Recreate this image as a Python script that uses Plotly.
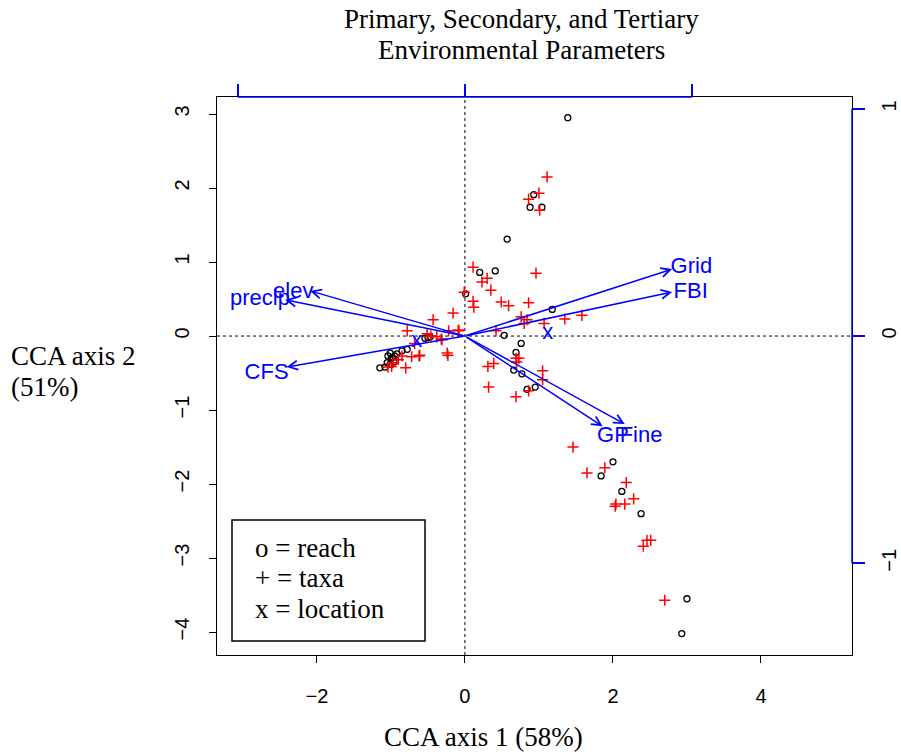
import plotly.graph_objects as go

# ---- data ----
site_x = [1.39, 0.93, 0.88, 1.04, 0.57, 0.20, 0.41, 0.01, 1.18, 0.53, 0.76, 0.69, 0.66, 0.77, 0.84, 0.95,
          2.00, 1.84, 2.12, 2.38, 3.00, 2.93,
          -0.47, -0.54, -0.50, -0.78, -0.85, -0.92, -1.01, -1.04, -0.95, -1.00, -0.96, -1.05, -1.01, -1.15, -1.08, -0.98]
site_y = [2.95, 1.91, 1.74, 1.74, 1.31, 0.86, 0.88, 0.57, 0.36, 0.01, -0.10, -0.22, -0.46, -0.51, -0.72, -0.69,
          -1.70, -1.89, -2.10, -2.40, -3.55, -4.02,
          -0.01, -0.03, -0.02, -0.18, -0.20, -0.24, -0.23, -0.27, -0.27, -0.31, -0.35, -0.36, -0.38, -0.43, -0.42, -0.29]

taxa_x = [1.11, 1.00, 0.86, 1.01, 0.96, 0.30, 0.11, 0.23, 0.35, -0.01, 0.11, 0.12, 0.49, 0.59, 0.86, 0.76,
          0.84, 0.80, 1.07, 1.35, 1.58, 0.42, -0.16, -0.43, -0.22, -0.08, -0.31, -0.61, -0.23, 0.69, 0.73,
          0.70, 0.31, 0.39, 1.05, 1.05, 0.32, 0.86, 0.69, -0.78, -0.09, -0.32, -0.68, -0.24, -0.72, -0.62,
          -0.80, -0.85, -0.90, -0.97, -1.04, -0.99, -0.38, -0.51, -0.46,
          1.46, 1.65, 1.89, 2.18, 2.28, 2.04, 2.03, 2.16, 2.46, 2.51, 2.41, 2.70]
taxa_y = [2.15, 1.93, 1.85, 1.70, 0.85, 0.78, 0.93, 0.73, 0.62, 0.59, 0.47, 0.39, 0.46, 0.41, 0.45, 0.26,
          0.22, 0.17, 0.17, 0.23, 0.28, 0.07, 0.31, 0.22, 0.07, 0.07, -0.05, -0.26, -0.26, -0.30, -0.30,
          -0.35, -0.41, -0.37, -0.47, -0.59, -0.69, -0.74, -0.82, 0.07, 0.08, -0.04, -0.10, -0.23, -0.28, -0.27,
          -0.43, -0.27, -0.32, -0.36, -0.42, -0.41, -0.01, 0.03, 0.00,
          -1.50, -1.85, -1.78, -1.98, -2.20, -2.27, -2.30, -2.27, -2.76, -2.76, -2.84, -3.57]

loc_x = [1.12, -0.65]
loc_y = [0.04, -0.08]

env_names = ["Grid", "FBI", "elev", "precip", "CFS", "GP", "Fine"]
env_x = [2.80, 2.80, -2.09, -2.43, -2.41, 1.86, 2.16]
env_y = [0.905, 0.595, 0.61, 0.49, -0.42, -1.22, -1.19]
env_lab_x = [3.06, 3.05, -2.32, -2.77, -2.68, 2.00, 2.38]
env_lab_y = [0.93, 0.59, 0.59, 0.50, -0.50, -1.36, -1.36]

x_ticks = [-2, 0, 2, 4]
y_ticks = [-4, -3, -2, -1, 0, 1, 2, 3]
bip_ticks = [-1, 0, 1]
bip_scale = 3.07

x_range = [-3.35, 5.23]
y_range = [-4.31, 3.23]

title_lines = ["Primary, Secondary, and Tertiary", "Environmental Parameters"]
xlab = "CCA axis 1 (58%)"
ylab_lines = ["CCA axis 2", "(51%)"]
legend_lines = ["o = reach", "+ = taxa", "x = location"]

SERIF = "Liberation Serif, Times New Roman, serif"
SANS = "Liberation Sans, Arial, sans-serif"
BLUE = "#0000FF"

# layout geometry (page pixels)
PL, PR, PT, PB = 217, 852, 97, 655
PW, PH = PR - PL, PB - PT


def px(xp):
    return (xp - PL) / PW


def py(yp):
    return (PB - yp) / PH


fig = go.Figure()

# dotted zero lines
fig.add_trace(go.Scatter(x=x_range, y=[0, 0], mode="lines",
                         line=dict(color="black", width=1, dash="dot"), hoverinfo="skip", showlegend=False))
fig.add_trace(go.Scatter(x=[0, 0], y=y_range, mode="lines",
                         line=dict(color="black", width=1, dash="dot"), hoverinfo="skip", showlegend=False))

fig.add_trace(go.Scatter(x=site_x, y=site_y, mode="markers", showlegend=False,
                         marker=dict(symbol="circle-open", size=6, color="black", line=dict(width=1.3, color="black"))))
fig.add_trace(go.Scatter(x=taxa_x, y=taxa_y, mode="markers", showlegend=False,
                         marker=dict(symbol="cross-thin-open", size=8, color="red", line=dict(width=1.5, color="red"))))
fig.add_trace(go.Scatter(x=loc_x, y=loc_y, mode="text", text=["x"] * len(loc_x), showlegend=False,
                         textposition="middle center", textfont=dict(family=SANS, size=22, color=BLUE)))
fig.add_trace(go.Scatter(x=env_lab_x, y=env_lab_y, mode="text", text=env_names, showlegend=False,
                         textposition="middle center", textfont=dict(family=SANS, size=22, color=BLUE)))

# invisible trace for biplot axes
fig.add_trace(go.Scatter(x=[0], y=[0], xaxis="x2", yaxis="y2", mode="markers",
                         marker=dict(opacity=0), hoverinfo="skip", showlegend=False))

annotations = []
for nx, ny in zip(env_x, env_y):
    annotations.append(dict(x=nx, y=ny, ax=0, ay=0, xref="x", yref="y", axref="x", ayref="y",
                            text="", showarrow=True, arrowhead=5, arrowsize=1.2, arrowwidth=1.5,
                            arrowcolor=BLUE, standoff=0, startstandoff=0))


def txt(t, xp, yp, xanchor="center"):
    return dict(text=t, xref="paper", yref="paper", x=px(xp), y=py(yp), xanchor=xanchor, yanchor="middle",
                align="left", showarrow=False, font=dict(family=SERIF, size=27, color="black"))


for t, yp in zip(title_lines, [19, 50]):
    annotations.append(txt(t, 521, yp))
annotations.append(txt(xlab, 483, 737))
for t, yp in zip(ylab_lines, [356, 387]):
    annotations.append(txt(t, 9, yp, "left"))
for t, yp in zip(legend_lines, [548, 578, 609]):
    annotations.append(txt(t, 253, yp, "left"))

shapes = [
    dict(type="rect", xref="paper", yref="paper", x0=px(232), x1=px(425),
         y0=py(641), y1=py(520), line=dict(color="black", width=1.5), fillcolor="rgba(0,0,0,0)"),
    dict(type="line", xref="x2", yref="paper", x0=bip_ticks[0], x1=bip_ticks[-1], y0=1, y1=1,
         line=dict(color=BLUE, width=1.5)),
    dict(type="line", xref="paper", yref="y2", x0=1, x1=1, y0=bip_ticks[0], y1=bip_ticks[-1],
         line=dict(color=BLUE, width=1.5)),
]

fig.update_layout(
    width=901, height=752,
    margin=dict(l=PL, r=901 - PR, t=PT, b=752 - PB, autoexpand=False),
    paper_bgcolor="white", plot_bgcolor="white",
    showlegend=False,
    xaxis=dict(range=x_range, tickvals=x_ticks, ticks="outside", ticklen=7, tickcolor="black", automargin=False,
               showline=True, mirror=True, linecolor="black", linewidth=1.3, showgrid=False, zeroline=False,
               tickfont=dict(family=SANS, size=20, color="black"), ticklabelstandoff=16),
    yaxis=dict(range=y_range, tickvals=y_ticks, ticks="outside", ticklen=7, tickcolor="black", tickangle=-90,
               automargin=False,
               showline=True, mirror=True, linecolor="black", linewidth=1.3, showgrid=False, zeroline=False,
               tickfont=dict(family=SANS, size=20, color="black"), ticklabelstandoff=12),
    xaxis2=dict(overlaying="x", side="top", range=[v / bip_scale for v in x_range], tickvals=bip_ticks,
                ticks="outside", ticklen=12, tickcolor=BLUE, tickwidth=1.5, showticklabels=False, automargin=False,
                showline=False, showgrid=False, zeroline=False),
    yaxis2=dict(overlaying="y", side="right", range=[v / bip_scale for v in y_range], tickvals=bip_ticks,
                ticks="outside", ticklen=12, tickcolor=BLUE, tickwidth=1.5, tickangle=-90, automargin=False,
                showline=False, showgrid=False, zeroline=False,
                tickfont=dict(family=SANS, size=20, color="black"), ticklabelstandoff=7),
    annotations=annotations,
    shapes=shapes,
)

# remove the default 8px page margin so the 901x752 figure fills the window exactly
fig.write_html("out.html", config={"displayModeBar": False},
               post_script="document.body.style.margin='0';document.body.style.overflow='hidden';")
